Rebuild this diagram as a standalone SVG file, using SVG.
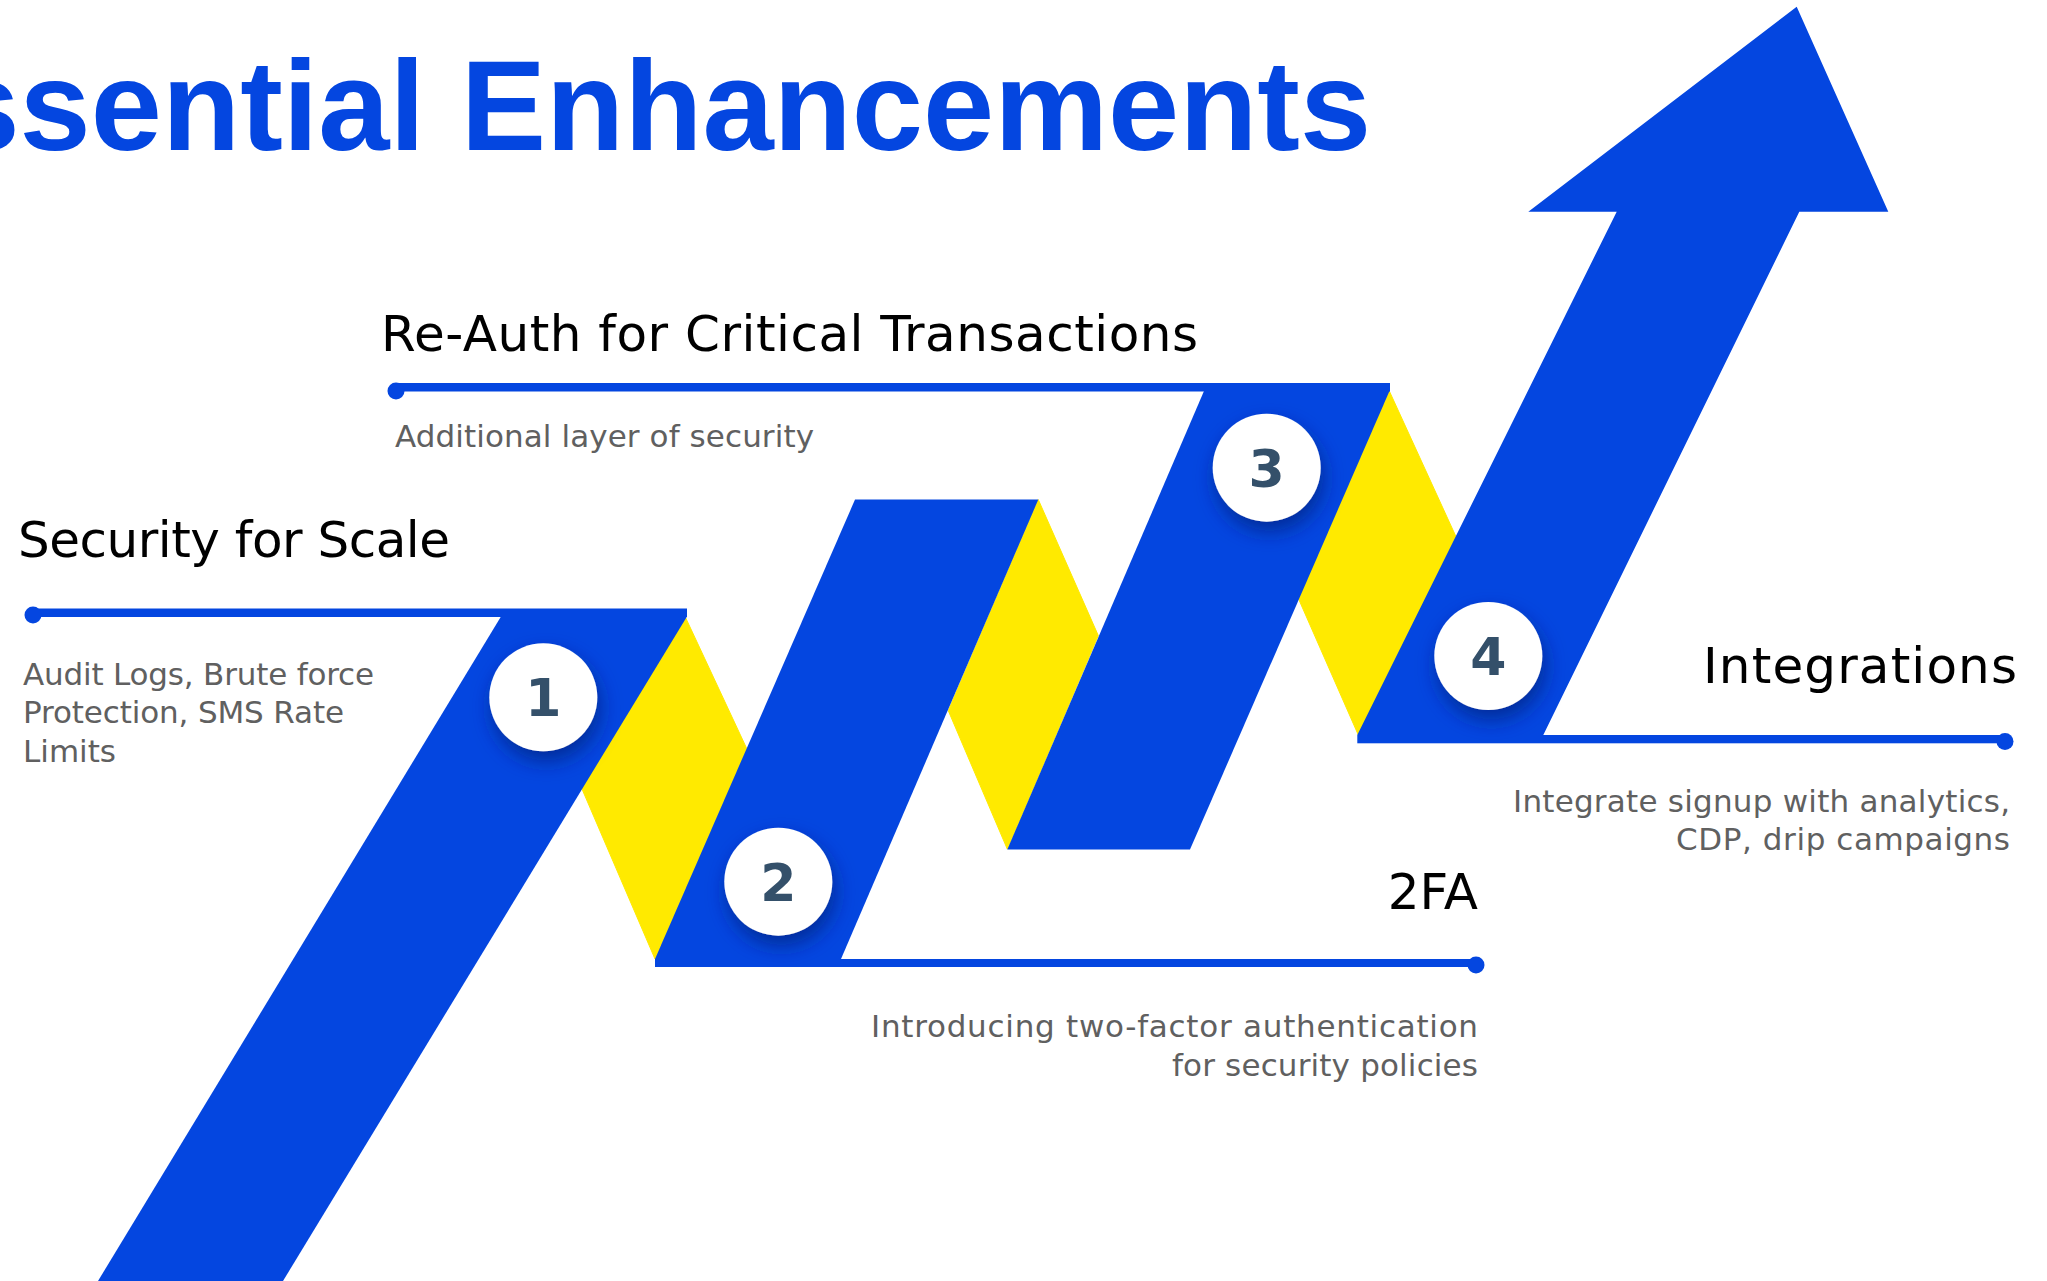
<svg xmlns="http://www.w3.org/2000/svg" width="2047" height="1281" viewBox="0 0 2047 1281">
  <defs>
    <filter id="shadow" x="-50%" y="-50%" width="200%" height="220%">
      <feDropShadow dx="3" dy="10" stdDeviation="10" flood-color="#00207a" flood-opacity="0.7"/>
    </filter>
  </defs>
  <style>
    .blue { fill: #0446E0; }
    .yellow { fill: #FFEA00; stroke: #FFEA00; stroke-width: 1; }
    .title { font-family: "Liberation Sans", Arial, sans-serif; font-weight: bold; font-size: 128px; fill: #0446E0; }
    .head { font-family: "DejaVu Sans", sans-serif; font-size: 50px; fill: #000000; }
    .desc { font-family: "DejaVu Sans", sans-serif; font-size: 31px; fill: #606060; }
    .badge { fill: #FFFFFF; filter: url(#shadow); }
    .num { font-family: "DejaVu Sans", sans-serif; font-weight: bold; font-size: 52px; fill: #34506A; text-anchor: middle; }
    .end { text-anchor: end; }
  </style>
  <rect width="2047" height="1281" fill="#FFFFFF"/>

  <text id="title" class="title" x="-137" y="150">Essential Enhancements</text>

  <g id="ribbon">
    <polygon class="yellow" points="685.3,617 746.7,748.5 655,959 581.7,788.3"/>
    <polygon class="yellow" points="1038.3,499.6 1098.3,635.6 1007.3,849.1 948.3,710.7"/>
    <polygon class="yellow" points="1389.3,391 1456,536.7 1358.3,735 1298.3,598.3"/>
    <polygon class="blue" points="500.7,617 686.7,617 283,1281 98,1281"/>
    <polygon class="blue" points="655,959 841,959 1038.3,499.6 855,499.6"/>
    <polygon class="blue" points="1007.3,849.5 1190,849.5 1389.5,391 1204,391"/>
    <polygon class="blue" points="1357.3,735 1543.3,735 1799.3,211.7 1888.3,211.7 1796.7,6.7 1528.3,211.7 1616.7,211.7"/>
  </g>

  <g id="connectors">
    <rect class="blue" x="33" y="608.5" width="654" height="8.5"/>
    <circle class="blue" cx="33" cy="615" r="8.5"/>
    <rect class="blue" x="655" y="959" width="821" height="8"/>
    <circle class="blue" cx="1476" cy="965" r="8.5"/>
    <rect class="blue" x="396" y="383" width="994" height="8.5"/>
    <circle class="blue" cx="396" cy="391" r="8.5"/>
    <rect class="blue" x="1357.3" y="735" width="648" height="8.3"/>
    <circle class="blue" cx="2005" cy="741.5" r="8.5"/>
  </g>

  <g id="step1">
    <circle class="badge" cx="543.3" cy="697.3" r="54"/>
    <text class="num" x="543.3" y="716">1</text>
    <text class="head" x="18" y="557" textLength="432" lengthAdjust="spacing">Security for Scale</text>
    <text class="desc" x="23" y="685" textLength="351" lengthAdjust="spacing">Audit Logs, Brute force</text>
    <text class="desc" x="23" y="723" textLength="321" lengthAdjust="spacing">Protection, SMS Rate</text>
    <text class="desc" x="23" y="762">Limits</text>
  </g>

  <g id="step2">
    <circle class="badge" cx="778.3" cy="881.7" r="54"/>
    <text class="num" x="778.3" y="900.5">2</text>
    <text class="head end" x="1478" y="909">2FA</text>
    <text class="desc end" x="1478" y="1037" textLength="607" lengthAdjust="spacing">Introducing two-factor authentication</text>
    <text class="desc end" x="1478" y="1076" textLength="306" lengthAdjust="spacing">for security policies</text>
  </g>

  <g id="step3">
    <circle class="badge" cx="1266.7" cy="467.7" r="54"/>
    <text class="num" x="1266.7" y="486.5">3</text>
    <text class="head" x="381" y="350.7" textLength="817" lengthAdjust="spacing">Re-Auth for Critical Transactions</text>
    <text class="desc" x="395" y="446.7" textLength="419" lengthAdjust="spacing">Additional layer of security</text>
  </g>

  <g id="step4">
    <circle class="badge" cx="1488.3" cy="656" r="54"/>
    <text class="num" x="1488.3" y="675">4</text>
    <text class="head end" x="2017" y="683" textLength="314" lengthAdjust="spacing">Integrations</text>
    <text class="desc end" x="2010" y="811.7" textLength="497" lengthAdjust="spacing">Integrate signup with analytics,</text>
    <text class="desc end" x="2010" y="850" textLength="334" lengthAdjust="spacing">CDP, drip campaigns</text>
  </g>
</svg>
